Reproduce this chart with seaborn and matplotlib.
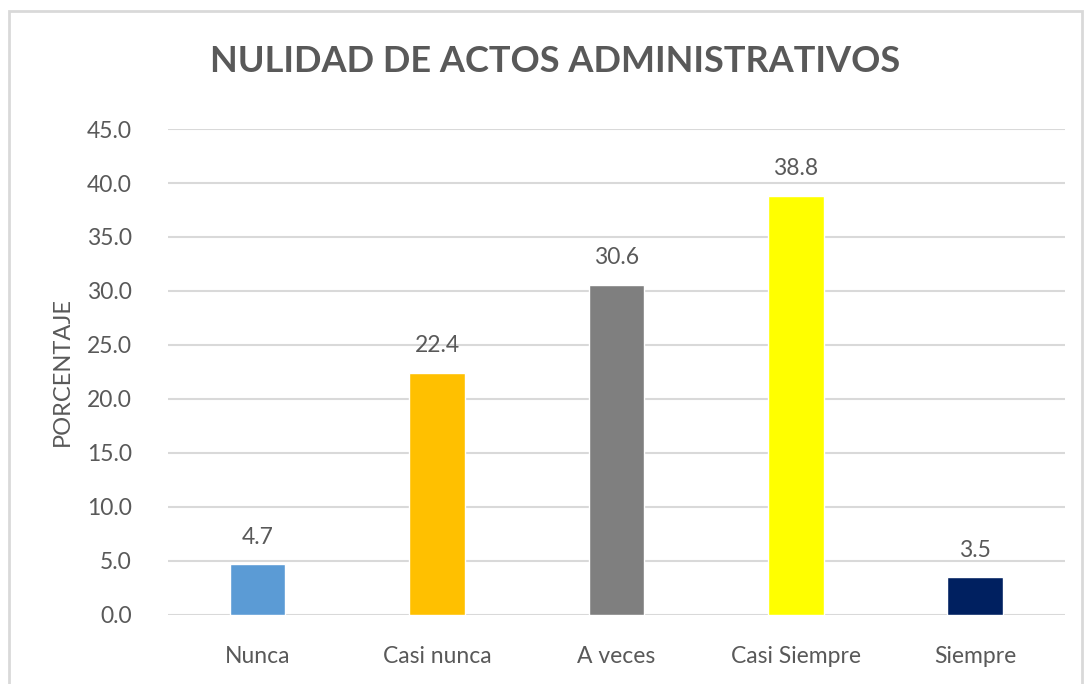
import matplotlib
matplotlib.use("Agg")
import matplotlib.pyplot as plt
import seaborn as sns
import pandas as pd

# data
categorias = ["Nunca", "Casi nunca", "A veces", "Casi Siempre", "Siempre"]
porcentajes = [4.7, 22.4, 30.6, 38.8, 3.5]
colores = ["#5B9BD5", "#FFC000", "#7F7F7F", "#FFFF00", "#002060"]
ticks_y = [0, 5, 10, 15, 20, 25, 30, 35, 40, 45]

df = pd.DataFrame({"categoria": categorias, "porcentaje": porcentajes})

sns.set_theme(style="white")
plt.rcParams['font.family'] = ['Lato', 'DejaVu Sans']
gris = "#595959"

fig = plt.figure(figsize=(10.91, 6.84), dpi=100)
ax = fig.add_axes([0.154, 0.1009, 0.822, 0.7105])

sns.barplot(data=df, x="categoria", y="porcentaje", hue="categoria",
            palette=colores, saturation=1, width=0.31, legend=False,
            ax=ax, zorder=3)

ax.set_ylim(0, 45)
ax.set_xlim(-0.5, 4.5)
ax.set_yticks(ticks_y)
ax.set_yticklabels([f"{t:.1f}" for t in ticks_y])
ax.grid(axis="y", color="#D9D9D9", linewidth=1.5, zorder=0)
ax.grid(axis="x", visible=False)
for s in ax.spines.values():
    s.set_visible(False)
ax.tick_params(axis="both", length=0, labelsize=16.5, colors=gris)
ax.tick_params(axis="y", pad=26)
ax.tick_params(axis="x", pad=22)
ax.set_xlabel("")
ax.set_ylabel("PORCENTAJE", fontsize=17, color=gris, labelpad=10)

for p, v in zip(ax.patches, porcentajes):
    ax.annotate(f"{v:.1f}", (p.get_x() + p.get_width() / 2, v),
                xytext=(0, 12), textcoords="offset points",
                ha="center", va="bottom", fontsize=16.5, color=gris)

fig.text(555 / 1091, 1 - 62 / 684, "NULIDAD DE ACTOS ADMINISTRATIVOS",
         ha="center", va="center", fontsize=26, fontweight="bold", color=gris)

# chart border
borde = plt.Rectangle((9 / 1091, -0.05), 1073 / 1091, 1.05 - 11 / 684,
                      transform=fig.transFigure, fill=False,
                      edgecolor="#D9D9D9", linewidth=2)
fig.patches.append(borde)

fig.savefig("out.png", dpi=100)
